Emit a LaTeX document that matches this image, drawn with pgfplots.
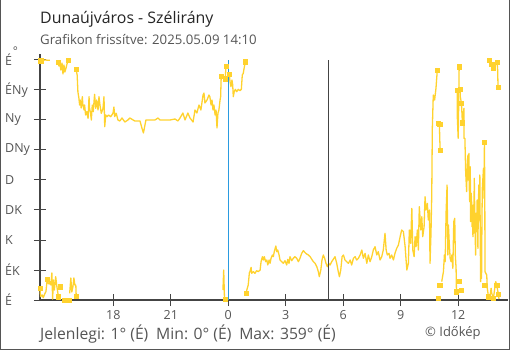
\documentclass[border=0pt]{standalone}
\usepackage{pgfplots}
\pgfplotsset{compat=1.18}
\usepackage{fontspec}
\setmainfont{Open Sans}
\definecolor{wind}{HTML}{FFD22E}
\definecolor{axisgray}{HTML}{444444}
\definecolor{txtgray}{HTML}{555555}
\definecolor{sunblue}{HTML}{2A9BE0}
\pgfplotsset{wline/.style={wind, line width=1.3pt, line join=round, mark=none}}
\begin{document}
\begin{tikzpicture}[x=1pt,y=1pt]
\useasboundingbox (0pt,0pt) rectangle (510pt,350pt);
\draw[color=txtgray, line width=1.2pt] (0.6pt,350pt) -- (0.6pt,0.6pt) -- (509.4pt,0.6pt) -- (509.4pt,350pt);
\node[anchor=base west, inner sep=0, font=\fontsize{15.9}{19}\selectfont, text=black!85] at (40pt,326pt) {Dunaújváros - Szélirány};
\node[anchor=base west, inner sep=0, font=\fontsize{13.2}{16}\selectfont, text=txtgray] at (40pt,305pt) {Grafikon frissítve: 2025.05.09 14:10};
\node[inner sep=0, font=\fontsize{12}{14}\selectfont, text=txtgray] at (15.5pt,299pt) {°};
\draw[axisgray, line width=1.2pt] (40pt,289pt) -- (40pt,296pt);
\begin{axis}[at={(228.3pt,50pt)}, anchor=origin, scale only axis, width=468pt, height=240pt,
  xmin=-9.83, xmax=14.6, ymin=0, ymax=360,
  axis lines*=left, clip=false,
  axis line style={axisgray, line width=1.2pt},
  xtick={-6,-3,0,3,6,9,12}, xticklabels={18,21,0,3,6,9,12},
  ytick={0,45,...,360}, yticklabels={É,ÉK,K,DK,D,DNy,Ny,ÉNy,É},
  tick align=center, major tick length=12pt,
  tick style={axisgray, line width=1pt},
  ticklabel style={text=txtgray, font=\fontsize{12.5}{14}\selectfont},
  yticklabel style={anchor=west, inner sep=0pt, xshift=-29pt},
  xticklabel style={inner sep=0pt, yshift=-4pt},
  unbounded coords=jump]
% top segments
\addplot[wline] coordinates {(-9.80,359) (-9.57,360) (-9.31,359.5)};
\addplot[wline] coordinates {(-8.89,357) (-8.84,351) (-8.79,354) (-8.74,345) (-8.68,355.5) (-8.63,339) (-8.58,352.5) (-8.53,342) (-8.47,348) (-8.42,354) (-8.36,359.5)};
\addplot[wline] coordinates {(-7.95,346.5) (-7.89,337.5) (-7.85,312) (-7.80,303) (-7.76,292.5) (-7.73,300) (-7.68,288) (-7.62,305) (-7.59,292.5) (-7.53,285) (-7.50,292.5) (-7.45,277.5) (-7.39,282.5) (-7.32,272.5) (-7.27,305) (-7.24,287.5) (-7.19,280) (-7.15,270) (-7.10,292.5) (-7.05,282.5) (-6.98,308.5) (-6.92,287.5) (-6.87,300) (-6.80,285) (-6.75,305) (-6.70,292.5) (-6.63,280) (-6.54,287.5) (-6.49,305) (-6.45,260) (-6.40,277.5) (-6.33,275) (-6.25,277.5) (-6.14,275) (-6.02,280) (-5.97,289.5) (-5.93,275) (-5.85,280) (-5.76,270) (-5.66,268.5) (-5.55,273) (-5.40,267) (-5.24,270) (-5.14,273) (-4.88,268.5) (-4.61,268.5) (-4.51,258) (-4.43,250.5) (-4.35,262.5) (-4.30,270) (-4.09,270) (-3.83,270) (-3.67,273) (-3.57,270) (-3.30,270) (-3.04,270) (-2.78,271.5) (-2.63,268.5) (-2.52,273) (-2.37,280.5) (-2.26,270) (-2.11,280.5) (-2.00,273) (-1.84,267) (-1.74,285) (-1.64,280.5) (-1.53,292.5) (-1.43,285) (-1.32,307.5) (-1.27,310.5) (-1.22,295.5) (-1.11,300) (-1.01,307.5) (-0.96,304.5) (-0.90,292.5) (-0.85,300) (-0.80,285) (-0.75,292.5) (-0.69,277.5) (-0.64,285) (-0.59,258) (-0.54,280.5) (-0.49,285) (-0.43,300) (-0.40,305) (-0.37,336)};
\addplot[wline] coordinates {(-0.16,332) (-0.12,351)};
\addplot[wline] coordinates {(0.05,339) (0.09,327.5) (0.14,320) (0.19,330) (0.23,322.5) (0.26,305) (0.31,312.5) (0.37,316) (0.44,312.5) (0.52,316) (0.61,314) (0.68,316) (0.73,337.5) (0.78,340) (0.84,350) (0.89,357.5)};
\addplot[wline] coordinates {(10.96,265.5) (11.02,262.5) (11.04,240) (11.06,225)};
\addplot[wline] coordinates {(11.95,315) (11.95,277.5) (12.00,242.5) (12.03,300) (12.05,350)};
\addplot[wline] coordinates {(12.11,316) (12.11,305) (12.17,295) (12.22,266) (12.30,287.5) (12.30,242.5) (12.35,242.5) (12.39,192.5) (12.42,175) (12.44,162.5) (12.47,200) (12.51,217.5) (12.53,180) (12.56,220) (12.58,170) (12.60,147.5) (12.63,200) (12.65,117.5) (12.68,160) (12.70,147.5) (12.72,110) (12.74,132.5) (12.77,95) (12.79,142.5) (12.81,100) (12.84,182.5) (12.87,120) (12.91,67.5) (12.93,130) (12.96,102.5) (12.99,150) (13.03,77.5) (13.05,140) (13.08,172.5) (13.10,120) (13.13,187.5) (13.15,100) (13.17,27.5) (13.19,60) (13.22,32.5) (13.24,120) (13.26,167.5) (13.32,197.5) (13.35,152.5) (13.37,236.5) (13.39,150) (13.40,42.5) (13.49,37.5) (13.52,17.5) (13.58,5) (13.67,7.5) (13.72,17.5) (13.75,10) (13.84,2.5) (13.93,22.5) (13.96,27.5) (14.01,22.5) (14.10,8.5) (14.13,1.5)};
\addplot[wline] coordinates {(13.72,354) (13.82,354) (13.82,348)};
\addplot[wline] coordinates {(14.03,357) (14.06,345) (14.08,319.5)};
% bottom segments
\addplot[wline] coordinates {(-9.83,17.5) (-9.80,5) (-9.71,7.5) (-9.66,3.5) (-9.57,10) (-9.52,12.5) (-9.45,31.5) (-9.40,25) (-9.35,24) (-9.31,27.5) (-9.26,22.5) (-9.21,40.5) (-9.17,1.5) (-9.13,30) (-9.08,15) (-9.01,35) (-8.96,22.5) (-8.92,15) (-8.87,5)};
\addplot[wline] coordinates {(-8.28,10) (-8.22,33) (-8.17,12) (-8.11,20) (-8.06,33) (-8.01,22.5) (-7.96,22.5) (-7.94,6)};
\addplot[wline] coordinates {(-0.28,15) (-0.24,45) (-0.20,3)};
\addplot[wline] coordinates {(0.92,10) (0.99,17.5) (1.04,22.5) (1.10,41) (1.13,42.5) (1.19,49) (1.22,40) (1.31,42.5) (1.39,40) (1.48,44) (1.57,42.5) (1.66,45) (1.71,57.5) (1.78,65) (1.83,60) (1.88,65) (1.95,57.5) (2.01,60) (2.06,52.5) (2.13,60) (2.18,55) (2.23,62.5) (2.30,67.5) (2.35,65) (2.40,72.5) (2.48,81) (2.53,72.5) (2.58,75) (2.65,67.5) (2.70,60) (2.79,57.5) (2.87,55) (2.96,59) (3.05,52.5) (3.10,61) (3.17,55) (3.22,65) (3.31,59) (3.39,62.5) (3.48,65) (3.57,62.5) (3.66,57.5) (3.74,62.5) (3.83,70) (3.92,74) (4.01,71) (4.09,69) (4.18,67.5) (4.27,65) (4.36,61) (4.44,57.5) (4.53,55) (4.62,50) (4.70,42.5) (4.75,35) (4.83,45) (4.89,60) (4.96,67.5) (5.03,62.5) (5.10,55) (5.17,50) (5.24,55) (5.31,52.5) (5.40,57.5) (5.48,61) (5.57,65) (5.66,55) (5.74,42.5) (5.80,35) (5.87,45) (5.94,65) (6.01,67.5) (6.09,60) (6.18,57.5) (6.27,55) (6.36,60) (6.44,52.5) (6.53,62.5) (6.62,65) (6.70,60) (6.79,62.5) (6.88,67.5) (6.97,75) (7.05,62.5) (7.14,70) (7.23,55) (7.31,67.5) (7.40,57.5) (7.49,65) (7.57,75) (7.66,80) (7.75,67.5) (7.83,72.5) (7.92,60) (8.01,65) (8.09,75) (8.18,100) (8.24,75) (8.30,67.5) (8.39,70) (8.44,62.5) (8.53,67.5) (8.62,60) (8.70,70) (8.79,77.5) (8.88,82.5) (8.97,95) (9.05,105) (9.14,102.5) (9.23,80) (9.28,60) (9.32,45) (9.40,55) (9.45,105) (9.52,85) (9.58,137.5) (9.63,75) (9.70,65) (9.75,95) (9.80,80) (9.87,105) (9.92,75) (9.97,140) (10.05,105) (10.10,125) (10.15,95) (10.22,110) (10.27,155) (10.32,135) (10.39,145) (10.44,120) (10.50,135) (10.53,55) (10.58,100) (10.62,157.5) (10.65,257.5) (10.70,307.5) (10.77,300) (10.84,317.5) (10.91,345)};
\addplot[wline] coordinates {(11.14,27.5) (11.23,42.5) (11.28,67.5) (11.32,57.5) (11.37,132.5) (11.42,172.5) (11.46,67.5) (11.49,112.5) (11.53,87.5) (11.58,62.5) (11.63,57.5) (11.67,67.5) (11.72,47.5) (11.77,117.5) (11.82,122.5) (11.85,67.5) (11.89,47.5) (11.91,12.5)};
% isolated points
\addplot[only marks, mark=square*, mark size=2.2pt, wind] coordinates {(-9.80,359) (-8.89,357) (-8.36,359.5) (-7.95,346.5) (-0.37,336) (-0.16,332) (-0.12,351) (0.05,339) (0.89,357.5) (10.91,345) (10.96,265.5) (11.04,264) (11.06,225) (11.95,315) (12.05,350) (12.11,316) (12.17,295) (12.22,266) (13.37,236.5) (13.62,360) (13.72,354) (13.82,354) (13.82,348) (14.03,357) (14.08,319.5) (-9.83,17.5) (-9.45,31.5) (-8.87,5) (-8.79,20) (-8.58,0) (-8.32,0) (-7.94,6) (-0.17,1) (0.92,10) (10.96,2.5) (11.04,22.5) (11.91,12.5) (12.05,28.5) (12.17,14.5) (13.37,22.5) (13.58,5) (13.84,2.5) (14.01,22.5) (14.10,8.5)};
% midnight and sunrise lines
\addplot[sunblue, line width=1pt, mark=none] coordinates {(0,0) (0,360)};
\addplot[axisgray, line width=1pt, mark=none] coordinates {(5.21,0) (5.21,360)};
\end{axis}
\node[anchor=base west, inner sep=0, font=\fontsize{15.7}{19}\selectfont, text=txtgray] at (40pt,11pt) {Jelenlegi: 1° (É)\enspace Min: 0° (É)\enspace Max: 359° (É)};
\node[anchor=base west, inner sep=0, font=\fontsize{13}{15}\selectfont, text=txtgray] at (425pt,14pt) {©\ Időkép};
\end{tikzpicture}
\end{document}
